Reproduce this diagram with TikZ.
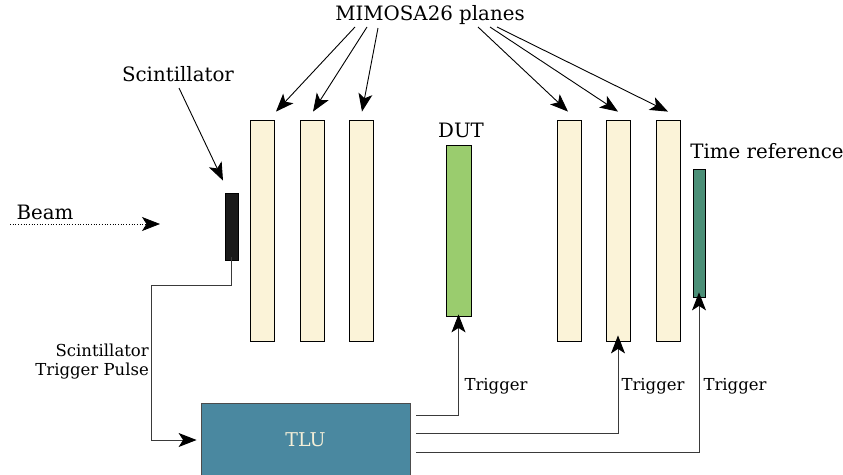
\documentclass[tikz,border=0pt]{standalone}
\usepackage{fontspec}
\setmainfont{DejaVu Serif}
\usetikzlibrary{arrows.meta}
\definecolor{planecol}{HTML}{FBF3D8}
\definecolor{dutcol}{HTML}{9ACC6E}
\definecolor{refcol}{HTML}{4B8F77}
\definecolor{tlucol}{HTML}{4A88A0}
\definecolor{scintcol}{HTML}{1A1A1A}
\definecolor{wirecol}{HTML}{3A3A3A}
\definecolor{tlutext}{HTML}{F4EFD8}
\tikzset{
  head/.style={-{Stealth[length=18pt,width=14pt,inset=4.5pt,color=black]}},
  box/.style={draw=black,line width=0.8pt,inner sep=0pt,minimum width=24pt,minimum height=221pt},
  plane/.style={box,fill=planecol},
  biglabel/.style={font=\fontsize{19.8}{23}\selectfont,inner sep=0pt},
  smalllabel/.style={font=\fontsize{16.5}{19}\selectfont,inner sep=0pt},
  pointer/.style={head,line width=0.9pt,black},
  wire/.style={head,line width=1pt,wirecol},
}
\begin{document}
\begin{tikzpicture}[x=1pt,y=-1pt]
\useasboundingbox (0,0) rectangle (843,474);
\clip (0,0) rectangle (843,474);

% telescope planes
\node[plane] (p1) at (262,230.5) {};
\node[plane] (p2) at (312,230.5) {};
\node[plane] (p3) at (361,230.5) {};
\node[plane] (p4) at (569,230.5) {};
\node[plane] (p5) at (618,230.5) {};
\node[plane] (p6) at (668,230.5) {};

% device under test and timing reference
\node[box,fill=dutcol,minimum width=25pt,minimum height=171pt] (dut) at (458.5,230.5) {};
\node[box,fill=refcol,minimum width=12pt,minimum height=128pt] (tref) at (699,233) {};
\node[box,fill=scintcol,minimum width=13pt,minimum height=67pt] (scint) at (231.5,226.5) {};

% trigger logic unit
\node[draw=black!70,line width=0.8pt,fill=tlucol,minimum width=209pt,minimum height=74pt,
      text=tlutext,font=\fontsize{19}{22}\selectfont] (tlu) at (305.5,440) {TLU};

% labels
\node[biglabel] (mim) at (430,15) {MIMOSA26 planes};
\node[biglabel] (dutl) at (461,130) {DUT};
\node[biglabel] (trefl) at (767,151) {Time reference};
\node[biglabel] (scintl) at (178,74) {Scintillator};
\node[biglabel] (beaml) at (45,212) {Beam};
\node[smalllabel,align=right,anchor=east] (pulsel) at (149,362) {Scintillator\\Trigger Pulse};
\node[smalllabel] (trg1) at (496,386) {Trigger};
\node[smalllabel] (trg2) at (653,386) {Trigger};
\node[smalllabel] (trg3) at (735,386) {Trigger};

% beam
\coordinate (b0) at (10,224);
\coordinate (b1) at (160,224);
\draw[head,dotted,line width=0.7pt] (b0) -- (b1);

% pointers from the labels
\draw[pointer] ([shift={(1,14)}]scintl.center) -- ([shift={(-8.5,-12)}]scint.north);
\draw[pointer] ([shift={(-75,12)}]mim.center) -- ([shift={(14,-8)}]p1.north);
\draw[pointer] ([shift={(-63,12)}]mim.center) -- ([shift={(1,-8)}]p2.north);
\draw[pointer] ([shift={(-52,13)}]mim.center) -- ([shift={(1,-8)}]p3.north);
\draw[pointer] ([shift={(48,12)}]mim.center) -- ([shift={(-1,-8)}]p4.north);
\draw[pointer] ([shift={(60,12)}]mim.center) -- ([shift={(0,-8)}]p5.north);
\draw[pointer] ([shift={(67,12)}]mim.center) -- ([shift={(0,-8)}]p6.north);

% scintillator pulse into the TLU
\coordinate (bend) at (151,285);
\draw[wire] ([yshift=3]scint.south) |- (bend) |- ([xshift=-4]tlu.west);

% trigger outputs
\coordinate (t1) at ([shift={(6,-25)}]tlu.east);
\coordinate (t2) at ([shift={(6,-7)}]tlu.east);
\coordinate (t3) at ([shift={(6,12)}]tlu.east);
\draw[wire] (t1) -| ([yshift=2]dut.south);
\draw[wire] (t2) -| ([yshift=6]p5.south);
\draw[wire] (t3) -| ([yshift=5]tref.south);
\end{tikzpicture}
\end{document}
